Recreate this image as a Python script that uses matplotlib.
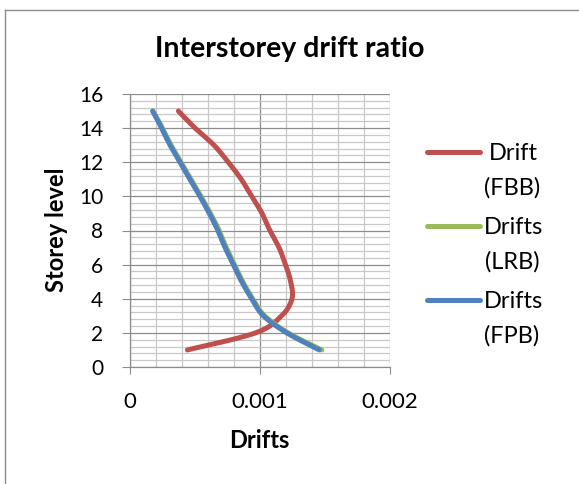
import numpy as np
import matplotlib
matplotlib.use("Agg")
import matplotlib.pyplot as plt
from matplotlib.lines import Line2D
from matplotlib.ticker import MultipleLocator

plt.rcParams['font.family'] = ['Lato', 'DejaVu Sans']

levels = [1, 2, 3, 4, 5, 6, 7, 8, 9, 10, 11, 12, 13, 14, 15]
drift_fbb = [0.000445, 0.00097, 0.00117, 0.00125, 0.00124, 0.00120, 0.00115, 0.00108,
             0.00102, 0.00094, 0.00086, 0.00076, 0.00065, 0.000505, 0.000376]
drift_lrb = [0.00148, 0.00122, 0.00104, 0.000948, 0.000872, 0.000808, 0.000745, 0.00069,
             0.000623, 0.00055, 0.000473, 0.000396, 0.00032, 0.000254, 0.00018]
drift_fpb = [0.00146, 0.00121, 0.00103, 0.00094, 0.000863, 0.000799, 0.000735, 0.00068,
             0.000614, 0.000542, 0.000465, 0.000388, 0.000312, 0.000248, 0.000178]
series_names = [("Drift", "(FBB)"), ("Drifts", "(LRB)"), ("Drifts", "(FPB)")]
colors = ["#C0504D", "#9BBB59", "#4F81BD"]
x_ticks = [0, 0.001, 0.002]
x_ticklabels = ["0", "0.001", "0.002"]
title = "Interstorey drift ratio"
xlabel = "Drifts"
ylabel = "Storey level"


def smooth(xs, ys, n=30):
    """Excel-like smoothed line (Bezier with Catmull-Rom control points)."""
    P = np.column_stack([xs, ys]).astype(float)
    P = np.vstack([P[0], P, P[-1]])
    out = []
    for i in range(1, len(P) - 2):
        p0, p1, p2, p3 = P[i - 1], P[i], P[i + 1], P[i + 2]
        c1 = p1 + (p2 - p0) / 6.0
        c2 = p2 - (p3 - p1) / 6.0
        t = np.linspace(0, 1, n)[:, None]
        seg = ((1 - t) ** 3) * p1 + 3 * ((1 - t) ** 2) * t * c1 + 3 * (1 - t) * t ** 2 * c2 + t ** 3 * p2
        out.append(seg if i == 1 else seg[1:])
    out = np.vstack(out)
    return out[:, 0], out[:, 1]


W, H = 579, 484
fig = plt.figure(figsize=(W / 100, H / 100), dpi=100)
ax = fig.add_axes([129.5 / W, (H - 367) / H, 260 / W, 273 / H])

ax.set_xlim(0, 0.002)
ax.set_ylim(0, 16)
ax.set_xticks(x_ticks)
ax.set_xticklabels(x_ticklabels)
ax.xaxis.set_minor_locator(MultipleLocator(0.0002))
ax.yaxis.set_major_locator(MultipleLocator(2))
ax.yaxis.set_minor_locator(MultipleLocator(0.4))

ax.grid(which="minor", color="#C8C8C8", linewidth=0.9)
ax.grid(which="major", color="#8C8C8C", linewidth=0.9)
ax.set_axisbelow(True)

for s in ["top", "right"]:
    ax.spines[s].set_visible(False)
for s in ["left", "bottom"]:
    ax.spines[s].set_color("#8C8C8C")
    ax.spines[s].set_linewidth(0.9)

ax.tick_params(axis="y", which="major", length=6, direction="out", color="#8C8C8C",
               labelsize=15, pad=13)
ax.tick_params(axis="y", which="minor", length=0)
ax.tick_params(axis="x", which="major", length=5, direction="out", color="#8C8C8C",
               labelsize=16, pad=13)
ax.tick_params(axis="x", which="minor", length=0)

for vals, c in zip([drift_fbb, drift_lrb, drift_fpb], colors):
    sx, sy = smooth(vals, levels)
    ax.plot(sx, sy, color=c, linewidth=3.6, solid_capstyle="round", clip_on=False)

fig.text(259 / W, 1 - 440 / H, xlabel, fontsize=17, fontweight="bold",
         ha="center", va="center")
fig.text(56 / W, 1 - 230 / H, ylabel, fontsize=17, fontweight="bold",
         ha="center", va="center", rotation=90)

fig.text(290 / W, 1 - 56.5 / H, title, fontsize=20.5, fontweight="bold",
         ha="center", va="baseline")

# legend
leg_y = [152, 226, 300]
for y, (l1, l2), c in zip(leg_y, series_names, colors):
    yf = 1 - y / H
    fig.add_artist(Line2D([427 / W, 480 / W], [yf, yf], color=c, linewidth=3.6,
                          solid_capstyle="round"))
    fig.text(513 / W, 1 - (y + 7.5) / H, l1, fontsize=17, ha="center", va="baseline")
    fig.text(512 / W, 1 - (y + 42.5) / H, l2, fontsize=17, ha="center", va="baseline")

# chart border
fig.add_artist(Line2D([4.5 / W, 4.5 / W], [0, 1 - 10 / H], color="#8C8C8C", linewidth=1))
fig.add_artist(Line2D([4.5 / W, 1], [1 - 10 / H, 1 - 10 / H], color="#8C8C8C", linewidth=1))

fig.savefig("out.png", dpi=100)
